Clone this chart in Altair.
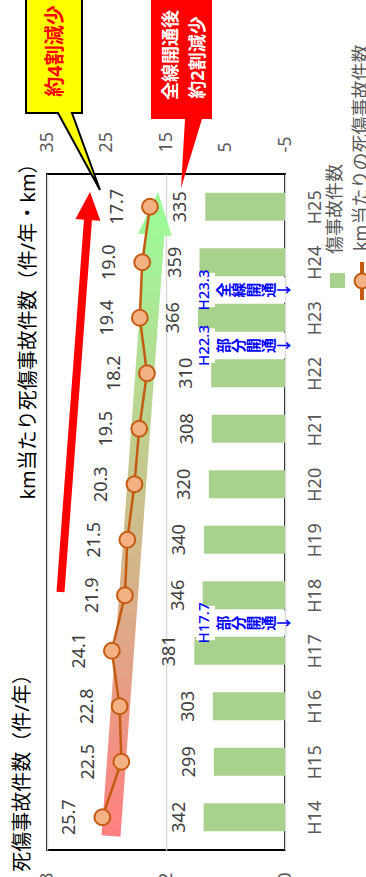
import math

import altair as alt
import pandas as pd

# 年度別の死傷事故件数と km当たり死傷事故件数
years = ["H14", "H15", "H16", "H17", "H18", "H19", "H20", "H21", "H22", "H23", "H24", "H25"]
year_num = [14, 15, 16, 17, 18, 19, 20, 21, 22, 23, 24, 25]
accidents = [342, 299, 303, 381, 346, 340, 320, 308, 310, 366, 359, 335]
rate_per_km = [25.7, 22.5, 22.8, 24.1, 21.9, 21.5, 20.3, 19.5, 18.2, 19.4, 19.0, 17.7]

# 開通時期の注記
opening_when = ["H17.7", "H22.3", "H23.3"]
opening_pos = [17.5, 22.5, 23.5]
opening_what = ["部分開通", "部分開通", "全線開通"]

# 軸の目盛
bar_ticks = [0, 500, 1000]
rate_ticks = [-5, 5, 15, 25, 35]

FONT = "Noto Sans, Noto Sans CJK JP"
GRAY = "#595959"
DARK = "#404040"
GREEN = "#A9D18E"
ORANGE = "#C55A11"
ORANGE_FILL = "#F4B183"
BLUE = "#0000FF"

# plot area placement inside the page
LEFT, TOP, W, H = 47, 174, 238, 676

df = pd.DataFrame({"year": years, "yr": year_num, "accidents": accidents, "rate": rate_per_km})
ann = pd.DataFrame({
    "pos": opening_pos,
    "when": opening_when,
    "what": ["\n".join(list(t) + ["↓"]) for t in opening_what],
})
one = pd.DataFrame({"k": [0]})

y_scale = alt.Scale(domain=[13.5, 25.5], nice=False, zero=False)
bar_scale = alt.Scale(domain=[0, 1000], reverse=True, nice=False)
rate_scale = alt.Scale(domain=[-5, 35], reverse=True, nice=False, zero=False)

year_axis = alt.Axis(
    orient="right", values=year_num, labelExpr="'H' + datum.value", labelAngle=270,
    labelAlign="center", labelBaseline="top", labelPadding=21, labelFontSize=18,
    labelColor=GRAY, labelFont=FONT, ticks=False, domain=False, grid=False, title=None,
)
bar_axis = alt.Axis(
    orient="bottom", values=bar_ticks, format=",", labelAngle=270, labelAlign="right",
    labelBaseline="middle", labelPadding=22, labelFontSize=18, labelColor=GRAY, labelFont=FONT,
    ticks=False, domain=False, grid=True, gridColor="#D9D9D9", gridWidth=1.5, title=None,
)
rate_axis = alt.Axis(
    orient="top", values=rate_ticks, labelExpr="'' + datum.value", labelAngle=270,
    labelAlign="left", labelBaseline="middle", labelPadding=22, labelFontSize=18,
    labelColor=GRAY, labelFont=FONT, ticks=False, domain=False, grid=False, title=None,
)

Y = alt.Y("yr:Q", scale=y_scale, axis=year_axis, title=None)
X_BAR = alt.X("accidents:Q", scale=bar_scale, axis=bar_axis, title=None)
X_RATE = alt.X("rate:Q", scale=rate_scale, axis=rate_axis, title=None)

base = alt.Chart(df)

# 死傷事故件数（棒）
bars = base.mark_bar(orient="horizontal", size=28, color=GREEN).encode(x=X_BAR, y=Y)
bar_labels = base.mark_text(angle=270, xOffset=-24, fontSize=18, color=DARK, font=FONT).encode(
    x=X_BAR, y=Y, text="accidents:Q"
)
bar_layer = alt.layer(bars, bar_labels)


def px(v):
    return v - LEFT


def py(v):
    return v - TOP


def arrow_polygon(x0, y0, x1, y1, shaft, head_w, head_len):
    dx, dy = x1 - x0, y1 - y0
    length = math.hypot(dx, dy)
    ux, uy = dx / length, dy / length
    nx, ny = -uy, ux
    bx, by = x1 - ux * head_len, y1 - uy * head_len
    s, h = shaft / 2, head_w / 2
    return [
        (x0 + nx * s, y0 + ny * s), (bx + nx * s, by + ny * s), (bx + nx * h, by + ny * h),
        (x1, y1),
        (bx - nx * h, by - ny * h), (bx - nx * s, by - ny * s), (x0 - nx * s, y0 - ny * s),
    ]


def shape(points, **mark_kw):
    """Polygon drawn as a custom symbol path, given in page pixels."""
    xs = [p[0] for p in points]
    ys = [p[1] for p in points]
    cx, cy = (min(xs) + max(xs)) / 2, (min(ys) + max(ys)) / 2
    r = max(max(xs) - min(xs), max(ys) - min(ys)) / 2
    path = "M" + " L".join(f"{(x - cx) / r:.5f},{(y - cy) / r:.5f}" for x, y in points) + " Z"
    return alt.Chart(one).mark_point(
        shape=path, size=(2 * r) ** 2, filled=True, opacity=1, **mark_kw
    ).encode(x=alt.value(px(cx)), y=alt.value(py(cy)))


def label(text, x, y, **kw):
    opts = dict(angle=270, font=FONT, fontSize=18, color=GRAY)
    opts.update(kw)
    return alt.Chart(one).mark_text(text=text, **opts).encode(x=alt.value(px(x)), y=alt.value(py(y)))


trend_fill = {
    "gradient": "linear", "x1": 0, "y1": 1, "x2": 0, "y2": 0,
    "stops": [{"offset": 0, "color": "#FF8080"}, {"offset": 1, "color": "#99FF99"}],
}
trend_arrow = shape(arrow_polygon(111, 836, 158, 192, 19, 34, 43), fill=trend_fill, strokeWidth=0)
red_arrow = shape(arrow_polygon(60.5, 592, 90, 192, 8, 25, 28), fill="#FF0000", strokeWidth=0)

# km当たり死傷事故件数（折れ線）
line = base.mark_line(color=ORANGE, strokeWidth=2.5).encode(x=X_RATE, y=Y, order="yr:Q")
points = base.mark_point(
    filled=True, size=250, fill=ORANGE_FILL, stroke=ORANGE, strokeWidth=2, opacity=1
).encode(x=X_RATE, y=Y)
rate_labels = base.mark_text(angle=270, xOffset=-32, fontSize=18, color=DARK, font=FONT).encode(
    x=X_RATE, y=Y, text=alt.Text("rate:Q", format=".1f")
)
rate_layer = alt.layer(trend_arrow, red_arrow, line, points, rate_labels)

# 開通時期の注記
ann_base = alt.Chart(ann).transform_calculate(
    lo_a="datum.pos - 0.31", hi_a="datum.pos + 0.31", lo_b="datum.pos - 0.23", hi_b="datum.pos + 0.23"
)
ann_box_a = ann_base.mark_rect(color="white").encode(
    x=alt.value(px(196)), x2=alt.value(px(215)),
    y=alt.Y("lo_a:Q", scale=y_scale, axis=year_axis, title=None), y2="hi_a:Q",
)
ann_box_b = ann_base.mark_rect(color="white").encode(
    x=alt.value(px(215)), x2=alt.value(px(285)),
    y=alt.Y("lo_b:Q", scale=y_scale, axis=year_axis, title=None), y2="hi_b:Q",
)
ann_when = alt.Chart(ann).mark_text(
    angle=270, fontSize=15, fontWeight=500, color=BLUE, font=FONT
).encode(
    x=alt.value(px(204)), y=alt.Y("pos:Q", scale=y_scale, axis=year_axis, title=None), text="when:N"
)
# first character sits at the anchor, the following ones step to the right
ann_what = alt.Chart(ann).mark_text(
    angle=270, fontSize=15, fontWeight="bold", color=BLUE, font=FONT, lineBreak="\n", lineHeight=15
).encode(
    x=alt.value(px(224)), y=alt.Y("pos:Q", scale=y_scale, axis=year_axis, title=None), text="what:N"
)

# 吹き出し
yellow_callout = shape(
    [(26, -8), (82, -8), (82, 113), (72, 113), (100, 190), (58, 113), (26, 113)],
    fill="#FFFF00", stroke="#000000", strokeWidth=2,
)
red_callout = shape(
    [(151, -8), (212, -8), (212, 119), (202, 119), (181, 188), (185, 119), (151, 119)],
    fill="#FF0000", strokeWidth=0,
)
yellow_text = label("約4割減少", 55.5, 51, fontSize=20, fontWeight="bold", color="#FF0000")
red_text_1 = label("全線開通後", 171.5, 55, fontSize=18, fontWeight="bold", color="white")
red_text_2 = label("約2割減少", 199, 57.5, fontSize=18, fontWeight="bold", color="white")

# 軸見出し
title_count = label("死傷事故件数（件/年）", 22.5, 768, fontSize=20, color="#000000")
title_rate = label("km当たり死傷事故件数（件/年・km）", 29, 326.5, fontSize=20, color="#000000")

# 凡例
legend_bar = alt.Chart(one).mark_square(size=225, color=GREEN, opacity=1).encode(
    x=alt.value(px(337.5)), y=alt.value(py(280.5))
)
legend_line = alt.Chart(one).mark_rule(color=ORANGE, strokeWidth=4).encode(
    x=alt.value(px(362)), y=alt.value(py(262)), y2=alt.value(py(300))
)
legend_dot = alt.Chart(one).mark_point(
    filled=True, size=220, fill=ORANGE_FILL, stroke=ORANGE, strokeWidth=2, opacity=1
).encode(x=alt.value(px(362)), y=alt.value(py(281)))
legend_text_bar = label("傷事故件数", 336, 254, align="left")
legend_text_line = label("km当たりの死傷事故件数", 362, 251, align="left")

chart = alt.layer(
    bar_layer,
    ann_box_a, ann_box_b, ann_when, ann_what,
    rate_layer,
    yellow_callout, red_callout, yellow_text, red_text_1, red_text_2,
    title_count, title_rate,
    legend_bar, legend_line, legend_dot, legend_text_bar, legend_text_line,
).resolve_scale(x="independent").properties(
    width=W, height=H,
    padding={"left": LEFT, "top": TOP, "right": 366 - LEFT - W, "bottom": 877 - TOP - H},
    autosize=alt.AutoSizeParams(type="none"),
    background="white",
).configure_view(stroke="#000000", strokeWidth=2)

chart.save("out.html", embed_options={"renderer": "svg", "actions": False})
